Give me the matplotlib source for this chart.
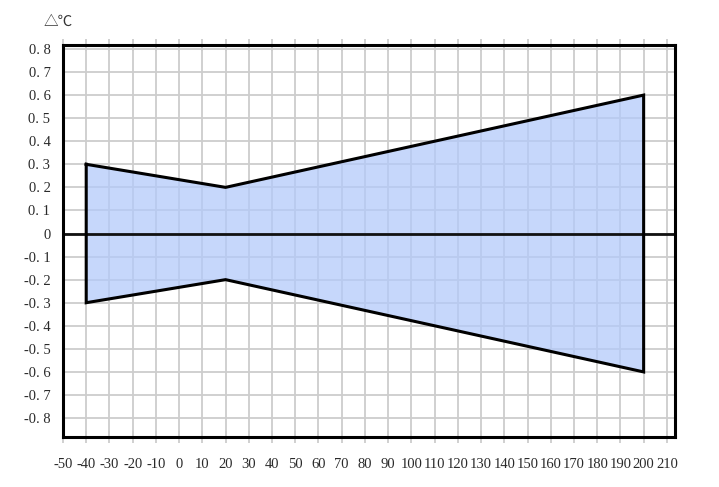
import matplotlib
matplotlib.use("Agg")
import matplotlib.pyplot as plt
import numpy as np

temps = [-40, 20, 200]
upper = [0.3, 0.2, 0.6]
lower = [-0.3, -0.2, -0.6]
xticks = list(range(-50, 211, 10))
yticks = [round(v, 1) for v in np.arange(-0.8, 0.81, 0.1)]

plt.rcParams['font.family'] = ['Liberation Serif', 'DejaVu Serif', 'Noto Sans CJK SC']

fig = plt.figure(figsize=(7.19, 4.87), dpi=100)
ax = fig.add_axes([0.0876, 0.1027, 0.8512, 0.8039])

ax.set_xlim(-50, 213.5)
ax.set_ylim(-0.882, 0.815)

ax.set_xticks(xticks)
ax.set_yticks(yticks)
ax.set_xticklabels([str(v) for v in xticks], fontsize=10.5, color='#2a2a2a')
ax.set_yticklabels(['0' if v == 0 else f"{v:.1f}".replace('.', '. ') for v in yticks],
                   fontsize=10.5, color='#2a2a2a')

ax.grid(True, color='#cdcdcd', linewidth=1.3, zorder=1)
ax.set_axisbelow(True)

poly_x = temps + temps[::-1]
poly_y = upper + lower[::-1]
ax.fill(poly_x, poly_y, facecolor=(179/255, 202/255, 250/255), alpha=0.75,
        edgecolor='none', zorder=2)
ax.plot(poly_x + [poly_x[0]], poly_y + [poly_y[0]], color='black', linewidth=2.2, zorder=4,
        solid_joinstyle='miter')
ax.axhline(0, color='#111111', linewidth=2.0, zorder=3.5)

for s in ax.spines.values():
    s.set_linewidth(2.2)
    s.set_color('black')
    s.set_zorder(5)

ax.tick_params(axis='x', which='both', direction='inout', length=8, color='#cdcdcd', width=1.3,
               pad=11, top=True)
ax.tick_params(axis='y', which='both', length=0, pad=9)

fig.text(0.060, 0.955, '△℃', fontsize=10.5, color='#333333', ha='left', va='center',
         family=['Noto Sans CJK SC', 'DejaVu Sans'])

fig.savefig('out.png', dpi=100)
